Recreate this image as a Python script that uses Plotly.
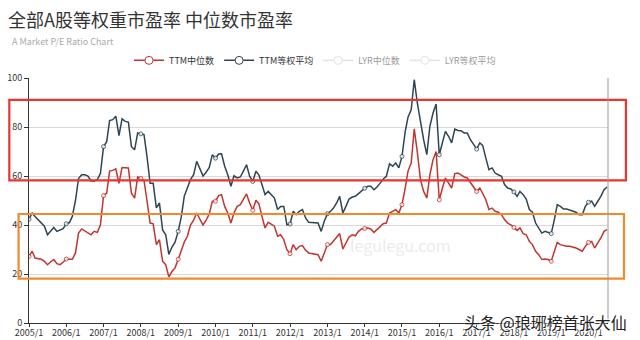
import plotly.graph_objects as go

# ---------------- data ----------------
years = list(range(2005, 2021))
tick_labels = [f"{y}/1" for y in years]

# monthly categories 2005/1 .. 2020/7
months = [f"{y}-{m:02d}-01" for y in years for m in range(1, 13)][:187]

# TTM 中位数 (median PE)
ttm_median = [
    27.2, 29.3, 26.5, 26.3, 26.0, 25.2, 23.8, 25.0, 25.9, 24.2, 23.8, 24.8,
    26.1, 26.0, 26.0, 28.6, 36.7, 38.4, 37.5, 36.7, 36.0, 37.4, 37.0, 40.0,
    52.0, 53.0, 62.0, 62.3, 62.9, 57.0, 63.5, 63.4, 63.3, 53.0, 51.0, 59.6,
    59.0, 58.2, 50.0, 40.8, 40.5, 32.0, 34.0, 25.2, 23.8, 18.8, 21.0, 22.5,
    26.0, 29.5, 33.0, 35.4, 40.0, 42.0, 44.9, 42.4, 40.0, 42.0, 44.5, 49.7,
    49.7, 52.0, 52.4, 47.6, 44.9, 40.8, 44.9, 47.6, 48.3, 50.5, 52.7, 49.0,
    46.0, 50.1, 48.7, 43.5, 38.8, 41.1, 40.3, 39.5, 35.4, 36.0, 34.0, 29.9,
    28.3, 32.0, 29.9, 31.3, 31.6, 29.7, 28.6, 28.3, 28.2, 27.9, 25.2, 28.6,
    32.0, 32.0, 33.3, 35.0, 36.5, 30.2, 32.9, 35.1, 36.0, 35.6, 37.4, 38.4,
    38.6, 38.8, 38.4, 37.0, 38.1, 39.5, 40.5, 40.8, 44.9, 45.6, 46.3, 44.9,
    48.3, 55.0, 62.0, 65.3, 79.2, 69.4, 58.5, 53.7, 51.0, 60.5, 66.7, 70.0,
    50.3, 55.1, 59.2, 57.1, 55.1, 61.0, 61.2, 60.5, 59.6, 59.2, 57.4, 55.5,
    53.7, 55.1, 53.1, 50.3, 46.3, 46.9, 45.6, 45.2, 44.2, 42.2, 40.8, 40.1,
    39.0, 37.8, 38.8, 36.5, 36.0, 33.3, 32.0, 29.3, 27.9, 25.9, 26.1, 25.9,
    25.2, 29.3, 32.9, 32.0, 31.6, 31.3, 31.3, 31.0, 30.6, 30.0, 29.3, 31.3,
    32.9, 33.3, 30.6, 32.7, 34.7, 37.4, 38.1,
]

# TTM 等权平均 (equal-weight average PE)
ttm_equal_avg = [
    42.4, 44.9, 43.5, 42.0, 40.8, 39.5, 36.0, 37.5, 39.0, 37.4, 37.8, 38.5,
    40.5, 41.0, 43.5, 50.0, 59.0, 60.5, 60.5, 60.0, 58.0, 58.0, 58.5, 61.0,
    72.0, 74.0, 82.6, 83.0, 84.4, 76.5, 83.3, 82.3, 82.0, 72.0, 70.7, 77.6,
    77.2, 76.9, 68.0, 57.0, 57.0, 47.0, 49.0, 38.0, 36.0, 28.0, 31.0, 33.0,
    37.4, 43.5, 51.7, 55.5, 58.5, 60.5, 66.0, 63.0, 60.0, 61.5, 63.5, 68.7,
    67.3, 69.0, 69.1, 64.0, 60.5, 55.8, 60.1, 59.2, 59.6, 62.0, 64.6, 59.9,
    57.8, 61.9, 60.5, 56.5, 52.4, 53.7, 52.5, 51.0, 46.3, 47.6, 47.6, 40.1,
    40.4, 45.6, 44.2, 45.6, 46.3, 42.9, 41.1, 41.1, 41.0, 40.8, 37.4, 41.5,
    44.6, 45.6, 46.9, 49.0, 51.7, 44.9, 47.6, 50.6, 51.4, 51.7, 52.8, 54.0,
    55.0, 55.8, 55.8, 54.4, 55.5, 57.1, 58.8, 59.9, 65.0, 64.0, 65.3, 63.3,
    68.0, 78.0, 84.0, 87.0, 99.3, 89.5, 81.6, 74.8, 68.7, 80.3, 85.7, 89.4,
    68.7, 73.5, 78.2, 76.2, 73.5, 79.2, 78.6, 78.5, 77.6, 77.6, 74.8, 73.0,
    71.0, 73.5, 72.5, 67.3, 62.6, 63.3, 61.2, 60.5, 59.9, 56.5, 55.1, 54.7,
    53.5, 51.7, 53.7, 52.4, 50.6, 46.3, 45.2, 40.8, 38.8, 36.7, 37.4, 37.0,
    36.5, 42.2, 48.3, 47.6, 46.5, 46.5, 46.0, 45.6, 45.2, 44.2, 44.2, 47.6,
    49.3, 49.7, 47.6, 49.7, 51.7, 54.4, 55.5,
]

series_names = ["TTM中位数", "TTM等权平均", "LYR中位数", "LYR等权平均"]

# highlighted PE bands (value ranges)
high_band = (58.2, 91.1)
low_band = (18.1, 44.5)

Y_MAX = 100
FONT = "Noto Sans CJK SC, Noto Sans, sans-serif"

# ---------------- figure ----------------
# symbols are shown only on the January points (as in the reference)
jan_idx = [i for i, m in enumerate(months) if m.endswith("-01-01")]

fig = go.Figure()
for name, vals, color in [
    (series_names[0], ttm_median, "#c23531"),
    (series_names[1], ttm_equal_avg, "#2f4554"),
]:
    fig.add_trace(go.Scatter(
        x=months, y=vals, name=name, mode="lines+markers",
        line=dict(color=color, width=1.5),
        marker=dict(size=8, color="white", line=dict(color=color, width=1)),
        selectedpoints=jan_idx,
        selected=dict(marker=dict(size=4, opacity=0.8)),
        unselected=dict(marker=dict(opacity=0)),
    ))
for name in series_names[2:]:
    # LYR series are switched off (legend only), as in the reference
    fig.add_trace(go.Scatter(
        x=[months[0]], y=[None], name=name, mode="lines+markers",
        visible="legendonly",
        line=dict(color="#c8c8c8", width=1.5),
        marker=dict(size=8, color="white", line=dict(color="#c8c8c8", width=1)),
    ))

# highlight boxes
fig.add_shape(type="rect", xref="paper", yref="paper",
              x0=-0.034, x1=1.031, y0=high_band[0] / Y_MAX, y1=high_band[1] / Y_MAX,
              line=dict(color="#e8352f", width=2.2), fillcolor="rgba(0,0,0,0)")
fig.add_shape(type="rect", xref="paper", yref="paper",
              x0=-0.018, x1=1.0276, y0=low_band[0] / Y_MAX, y1=low_band[1] / Y_MAX,
              line=dict(color="#f08a2e", width=2.2), fillcolor="rgba(0,0,0,0)")

fig.update_layout(
    width=640, height=340,
    margin=dict(l=29, r=32, t=78, b=17),
    paper_bgcolor="white", plot_bgcolor="white",
    font=dict(family=FONT, color="#333", size=9),
    showlegend=True,
    title=dict(text="全部A股等权重市盈率 中位数市盈率",
               font=dict(family=FONT, size=18, color="#333"),
               x=8 / 640, xref="container", xanchor="left",
               y=1 - 21 / 340, yref="container", yanchor="middle"),
    legend=dict(orientation="h", x=0.494, xanchor="center",
                y=1.072, yanchor="middle", itemwidth=30,
                font=dict(size=9, color="#333"), bgcolor="rgba(0,0,0,0)"),
    xaxis=dict(
        type="date", range=["2005-01-01", "2020-07-10"],
        tickvals=[f"{y}-01-01" for y in years], ticktext=tick_labels,
        showgrid=False, showline=True, linecolor="#333", linewidth=1,
        ticks="outside", ticklen=3, tickcolor="#333", ticklabelstandoff=-2,
        tickfont=dict(size=9, color="#333"), automargin=False,
        zeroline=False,
    ),
    yaxis=dict(
        range=[0, Y_MAX], dtick=20, showgrid=True, gridcolor="#d9d9d9",
        showline=True, linecolor="#333", linewidth=1, mirror=False,
        ticks="outside", ticklen=4, tickcolor="#333",
        tickfont=dict(size=9, color="#333"), automargin=False,
        zeroline=False,
    ),
    annotations=[
        dict(text="A Market P/E Ratio Chart", xref="paper", yref="paper",
             x=-0.033, y=1.149, xanchor="left", yanchor="middle",
             showarrow=False, font=dict(size=9, color="#aaa")),
        dict(text="legulegu.com", xref="paper", yref="paper",
             x=0.64, y=0.32, xanchor="center", yanchor="middle",
             showarrow=False, font=dict(size=16, color="#ececec")),
        dict(text="头条 @琅琊榜首张大仙", xref="paper", yref="paper",
             x=1.037, y=0.006, xanchor="right", yanchor="middle",
             showarrow=False,
             font=dict(size=16, color="#222",
                       shadow="1px 1px 1px #fff, -1px -1px 1px #fff")),
    ],
)
# right border line of the grid
fig.add_shape(type="line", xref="paper", yref="paper", x0=1, x1=1, y0=0, y1=1,
              line=dict(color="#999", width=1))

fig.write_html("out.html")
